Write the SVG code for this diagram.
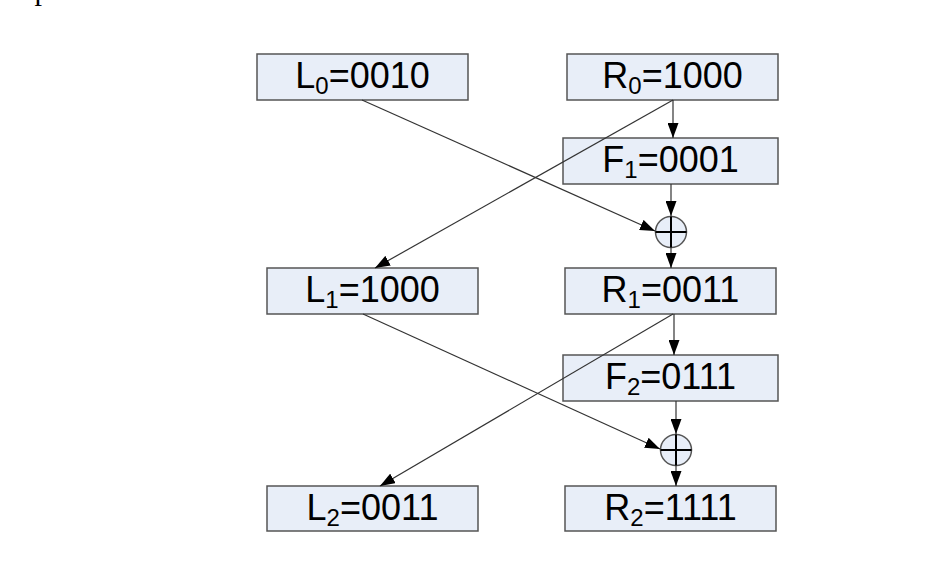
<svg xmlns="http://www.w3.org/2000/svg" width="932" height="577" viewBox="0 0 932 577">
<style>
.box{fill:#e8eef8;stroke:#555;stroke-width:1.5}
.lbl{font-family:"Liberation Sans",Arial,sans-serif;font-size:36px;fill:#000;text-anchor:middle}
.sub{font-size:24px}
.ln{stroke:#333;stroke-width:1.2;fill:none}
.xor{fill:#e8eef8;stroke:#555;stroke-width:1.5}
.cross{stroke:#000;stroke-width:2}
</style>
<defs>
<marker id="ah" viewBox="0 0 15 11" refX="15" refY="5.5" markerWidth="15" markerHeight="11" markerUnits="userSpaceOnUse" orient="auto">
<path d="M0,0 L15,5.5 L0,11 z" fill="#000"/>
</marker>
</defs>
<rect width="932" height="577" fill="#fff"/>
<text x="302" y="0" font-family="Liberation Serif,serif" font-size="30" text-anchor="end">e plaintext is 00101000.</text>

<g id="L0"><rect class="box" x="257" y="54" width="211" height="46"/><text class="lbl" x="362.5" y="88">L<tspan class="sub" dy="6">0</tspan><tspan dy="-6">=0010</tspan></text></g>
<g id="R0"><rect class="box" x="567" y="54" width="211" height="46"/><text class="lbl" x="672.5" y="88">R<tspan class="sub" dy="6">0</tspan><tspan dy="-6">=1000</tspan></text></g>
<g id="F1"><rect class="box" x="563" y="138" width="215" height="46"/><text class="lbl" x="670.5" y="172">F<tspan class="sub" dy="6">1</tspan><tspan dy="-6">=0001</tspan></text></g>
<g id="X1"><circle class="xor" cx="671" cy="232" r="15.5"/><path class="cross" d="M671,216.5V247.5M655.5,232H686.5"/></g>
<g id="L1"><rect class="box" x="267" y="268" width="211" height="46"/><text class="lbl" x="372.5" y="302">L<tspan class="sub" dy="6">1</tspan><tspan dy="-6">=1000</tspan></text></g>
<g id="R1"><rect class="box" x="565" y="268" width="211" height="46"/><text class="lbl" x="670.5" y="302">R<tspan class="sub" dy="6">1</tspan><tspan dy="-6">=0011</tspan></text></g>
<g id="F2"><rect class="box" x="563" y="355" width="215" height="46"/><text class="lbl" x="670.5" y="389">F<tspan class="sub" dy="6">2</tspan><tspan dy="-6">=0111</tspan></text></g>
<g id="X2"><circle class="xor" cx="676" cy="450" r="15.5"/><path class="cross" d="M676,434.5V465.5M660.5,450H691.5"/></g>
<g id="L2"><rect class="box" x="267" y="486" width="211" height="45"/><text class="lbl" x="372.5" y="520">L<tspan class="sub" dy="6">2</tspan><tspan dy="-6">=0011</tspan></text></g>
<g id="R2"><rect class="box" x="565" y="486" width="211" height="45"/><text class="lbl" x="670.5" y="520">R<tspan class="sub" dy="6">2</tspan><tspan dy="-6">=1111</tspan></text></g>

<g id="connectors">
<path class="ln" marker-end="url(#ah)" d="M362,100 L655,231"/>
<path class="ln" marker-end="url(#ah)" d="M673,100 L375,268"/>
<path class="ln" marker-end="url(#ah)" d="M673,100 V138"/>
<path class="ln" marker-end="url(#ah)" d="M671,184 V216"/>
<path class="ln" marker-end="url(#ah)" d="M671,248 V268"/>
<path class="ln" marker-end="url(#ah)" d="M363,314 L660,449"/>
<path class="ln" marker-end="url(#ah)" d="M673,314 L380,486"/>
<path class="ln" marker-end="url(#ah)" d="M674,314 V355"/>
<path class="ln" marker-end="url(#ah)" d="M676,401 V434"/>
<path class="ln" marker-end="url(#ah)" d="M676,466 V486"/>
</g>
</svg>
